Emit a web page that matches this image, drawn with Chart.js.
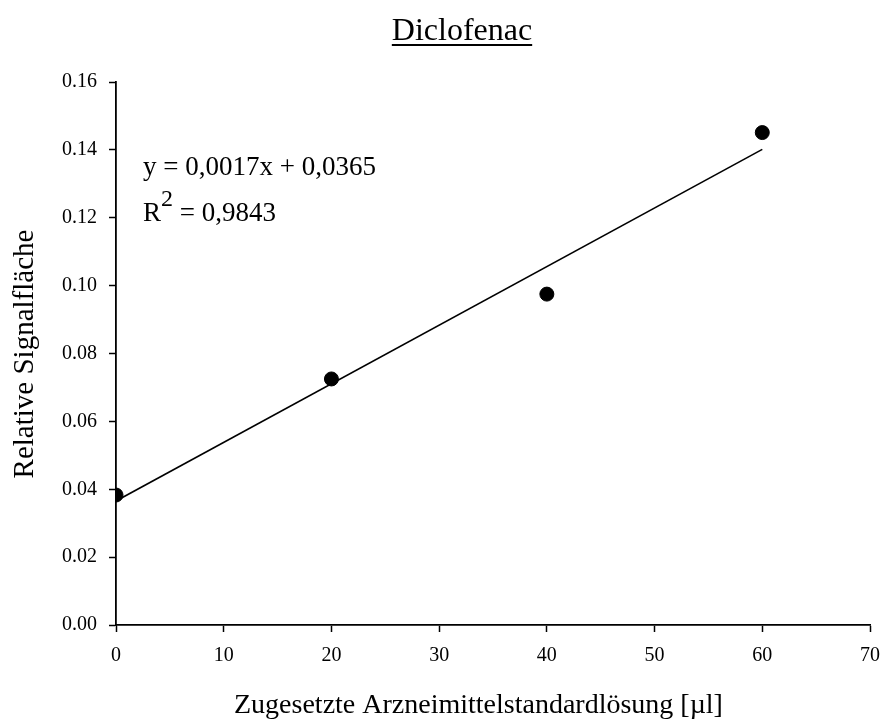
<html>
<head>
<meta charset="utf-8">
<style>
  body { margin:0; background:#fff; }
  #wrap { width:883px; height:720px; }
</style>
</head>
<body>
<div id="wrap">
  <canvas id="myChart" width="883" height="720"></canvas>
</div>

<script src="https://cdn.jsdelivr.net/npm/chart.js"></script>

<script>
  // Kalibrierdaten Diclofenac
  const zugabe = [0, 20, 40, 60];                 // µl Standardlösung
  const signal = [0.0383, 0.0725, 0.0975, 0.1451]; // relative Signalfläche
  const xTicks = [0, 10, 20, 30, 40, 50, 60, 70];
  const yTicks = [0.00, 0.02, 0.04, 0.06, 0.08, 0.10, 0.12, 0.14, 0.16];

  const SERIF = "'Liberation Serif', 'Times New Roman', serif";

  // lineare Regression fuer die Trendlinie
  function fit(xs, ys) {
    const n = xs.length;
    const mx = xs.reduce((a, b) => a + b, 0) / n;
    const my = ys.reduce((a, b) => a + b, 0) / n;
    let sxy = 0, sxx = 0;
    for (let i = 0; i < n; i++) {
      sxy += (xs[i] - mx) * (ys[i] - my);
      sxx += (xs[i] - mx) * (xs[i] - mx);
    }
    const m = sxy / sxx;
    return { m: m, b: my - m * mx };
  }
  const reg = fit(zugabe, signal);
  const trend = [zugabe[0], zugabe[zugabe.length - 1]].map(x => ({ x: x, y: reg.m * x + reg.b }));

  // Titel, Achsenbeschriftung und Gleichung
  const texte = {
    id: 'texte',
    afterDraw(chart) {
      const ctx = chart.ctx;
      ctx.save();
      ctx.fillStyle = '#000';
      ctx.textBaseline = 'alphabetic';

      // Titel mit Unterstreichung
      ctx.font = '32px ' + SERIF;
      ctx.textAlign = 'center';
      ctx.fillText('Diclofenac', 462, 40);
      const w = ctx.measureText('Diclofenac').width;
      ctx.fillRect(462 - w / 2, 44, w, 2);

      // x-Achsentitel
      ctx.font = '28px ' + SERIF;
      ctx.textAlign = 'left';
      ctx.fillText('Zugesetzte Arzneimittelstandardlösung [µl]', 234, 713);

      // y-Achsentitel
      ctx.save();
      ctx.translate(33, 354);
      ctx.rotate(-Math.PI / 2);
      ctx.textAlign = 'center';
      ctx.font = '29px ' + SERIF;
      ctx.fillText('Relative Signalfläche', 0, 0);
      ctx.restore();

      // Regressionsgleichung
      ctx.font = '27px ' + SERIF;
      ctx.textAlign = 'left';
      ctx.fillText('y = 0,0017x + 0,0365', 143, 175);
      ctx.fillText('R', 143, 221);
      let rx = 143 + ctx.measureText('R').width;
      ctx.font = '24px ' + SERIF;
      ctx.fillText('2', rx, 206);
      rx += ctx.measureText('2').width;
      ctx.font = '27px ' + SERIF;
      ctx.fillText(' = 0,9843', rx, 221);

      ctx.restore();
    }
  };

  const data = {
    datasets: [{
      label: 'Messwerte',
      data: zugabe.map((x, i) => ({ x: x, y: signal[i] })),
      backgroundColor: '#000',
      borderColor: '#000',
      pointRadius: 7,
      pointHoverRadius: 7,
      showLine: false,
      order: 1
    }, {
      label: 'Trend',
      data: trend,
      borderColor: '#000',
      borderWidth: 1.6,
      pointRadius: 0,
      showLine: true,
      fill: false,
      order: 2
    }]
  };

  const config = {
    type: 'scatter',
    data: data,
    options: {
      responsive: false,
      animation: false,
      layout: { padding: { top: 82, right: 13, left: 0, bottom: 0 } },
      plugins: {
        legend: { display: false },
        tooltip: { enabled: false }
      },
      scales: {
        x: {
          type: 'linear',
          min: 0,
          max: 70,
          afterFit: s => { s.height = 95; s.paddingLeft = 0; s.paddingRight = 0; },
          afterBuildTicks: s => { s.ticks = xTicks.map(v => ({ value: v })); },
          ticks: { color: '#000', font: { family: SERIF, size: 20 }, padding: 12 },
          grid: { drawOnChartArea: false, tickLength: 7, tickWidth: 1.5, tickColor: '#000' },
          border: { color: '#000', width: 1.8 }
        },
        y: {
          min: 0,
          max: 0.16,
          afterFit: s => { s.width = 116; s.paddingTop = 0; s.paddingBottom = 0; },
          afterBuildTicks: s => { s.ticks = yTicks.map(v => ({ value: v })); },
          ticks: { color: '#000', font: { family: SERIF, size: 20 }, padding: 12,
                   callback: v => v.toFixed(2) },
          grid: { drawOnChartArea: false, tickLength: 7, tickWidth: 1.5, tickColor: '#000' },
          border: { color: '#000', width: 1.8 }
        }
      }
    },
    plugins: [texte]
  };

  const myChart = new Chart(document.getElementById('myChart'), config);
</script>
</body>
</html>
